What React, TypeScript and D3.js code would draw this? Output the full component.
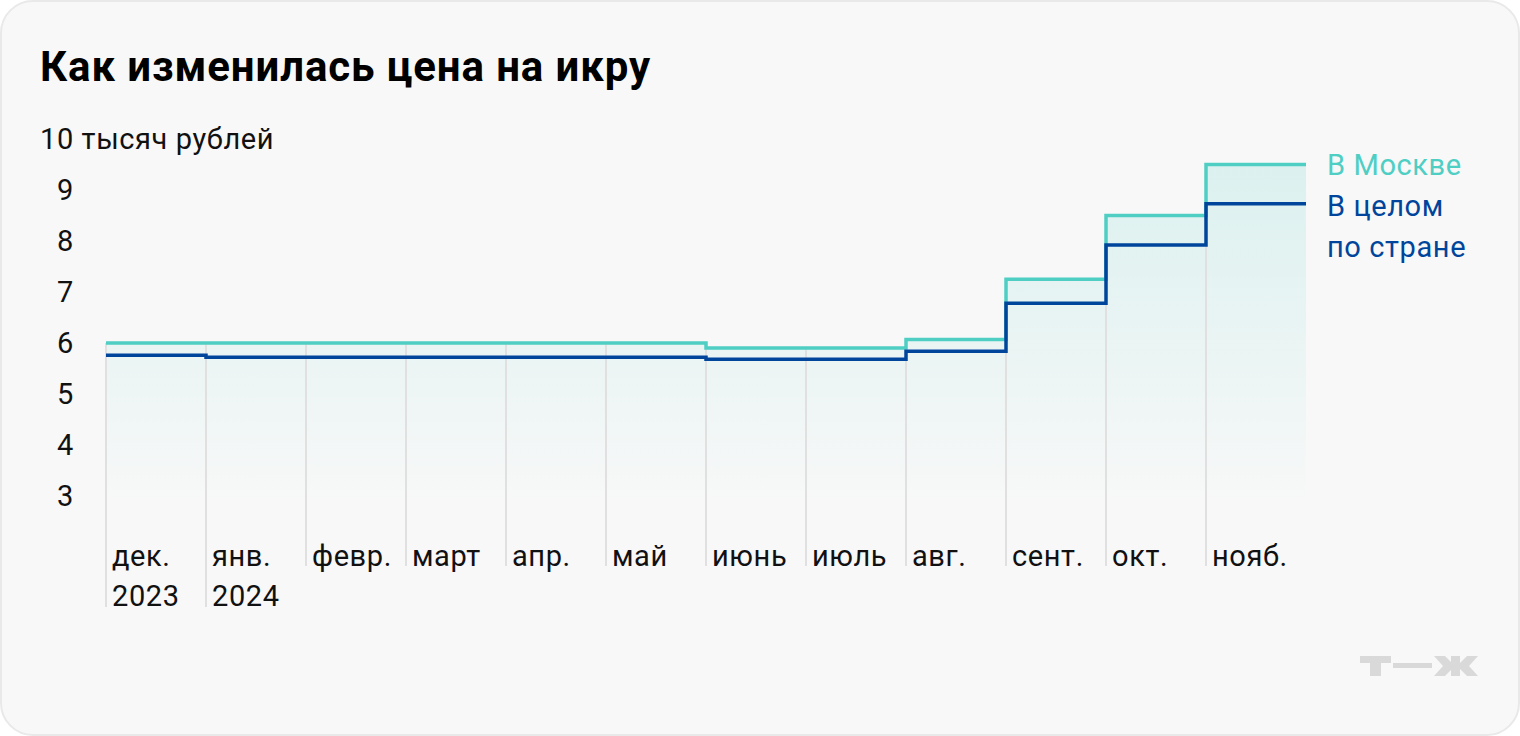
import * as d3 from "d3";

// месяцы и значения (тыс. руб.)
const months = ["дек.", "янв.", "февр.", "март", "апр.", "май", "июнь", "июль", "авг.", "сент.", "окт.", "нояб."];
const years = ["2023", "2024", "", "", "", "", "", "", "", "", "", ""];
const moscow = [6.0, 6.0, 6.0, 6.0, 6.0, 6.0, 5.9, 5.9, 6.07, 7.25, 8.5, 9.5];
const country = [5.76, 5.72, 5.72, 5.72, 5.72, 5.72, 5.68, 5.68, 5.84, 6.78, 7.92, 8.73];
const yTicks = [10, 9, 8, 7, 6, 5, 4, 3];

const TEAL = "#4fcec4";
const BLUE = "#00459c";
const FONT = "Roboto, 'Noto Sans', sans-serif";

export default function App() {
  const width = 1520;
  const height = 736;

  const x = d3.scaleLinear().domain([0, months.length]).range([106, 1306]);
  const y = d3.scaleLinear().domain([3, 10]).range([496, 139]);

  const ext = (a: number[]) => [...a, a[a.length - 1]];

  const line = d3
    .line<number>()
    .x((_, i) => x(i))
    .y((d) => y(d))
    .curve(d3.curveStepAfter);

  const area = d3
    .area<number>()
    .x((_, i) => x(i))
    .y0(y(2.8))
    .y1((d) => y(d))
    .curve(d3.curveStepAfter);

  const label = { fontFamily: FONT, fontSize: 29, letterSpacing: 0.6 };

  return (
    <svg
      width={width}
      height={height}
      style={{ position: "absolute", left: 0, top: 0, background: "#fff" }}
    >
      <defs>
        <linearGradient id="fillGrad" x1="0" y1="0" x2="0" y2="1">
          <stop offset="0%" stopColor={TEAL} stopOpacity={0.17} />
          <stop offset="55%" stopColor={TEAL} stopOpacity={0.08} />
          <stop offset="100%" stopColor={TEAL} stopOpacity={0} />
        </linearGradient>
      </defs>
      <rect x={1} y={1} width={width - 2} height={height - 2} rx={32} fill="#f8f8f8" stroke="#e9e9e9" strokeWidth={2} />

      <text x={40} y={81} fontFamily={FONT} fontWeight={700} fontSize={42} letterSpacing={0.9} fill="#000">
        Как изменилась цена на икру
      </text>

      {yTicks.map((t) => (
        <text key={t} x={t === 10 ? 40 : 57} y={y(t) + 10} {...label} fill="#111">
          {t === 10 ? "10 тысяч рублей" : t}
        </text>
      ))}

      <path d={area(ext(moscow)) ?? ""} fill="url(#fillGrad)" />

      {months.map((m, i) => (
        <line
          key={m}
          x1={x(i)}
          x2={x(i)}
          y1={y(moscow[i])}
          y2={years[i] ? 607 : 566}
          stroke="#e0e0e0"
          strokeWidth={2}
        />
      ))}

      {months.map((m, i) => (
        <text key={m} x={x(i) + 6} y={566} {...label} fill="#111">
          {m}
          {years[i] && (
            <tspan x={x(i) + 6} dy={40}>
              {years[i]}
            </tspan>
          )}
        </text>
      ))}

      <path d={line(ext(moscow)) ?? ""} fill="none" stroke={TEAL} strokeWidth={3.5} />
      <path d={line(ext(country)) ?? ""} fill="none" stroke={BLUE} strokeWidth={3.5} />

      <text x={1327} y={y(moscow[11]) + 10} {...label} fill={TEAL}>
        В Москве
      </text>
      <text x={1327} y={y(country[11]) + 12} {...label} fill={BLUE}>
        В целом
        <tspan x={1327} dy={41}>
          по стране
        </tspan>
      </text>

      {/* логотип т—ж */}
      <g fill="#d9d9d9">
        <rect x={1360} y={656} width={31} height={7} />
        <rect x={1370} y={656} width={11} height={20} />
        <rect x={1393} y={663} width={39} height={5} />
        <rect x={1451} y={656} width={9} height={20} />
        <polygon points="1434,656 1445,656 1453,664 1453,668 1445,676 1434,676 1443,666" />
        <polygon points="1478,656 1467,656 1459,664 1459,668 1467,676 1478,676 1469,666" />
      </g>
    </svg>
  );
}
